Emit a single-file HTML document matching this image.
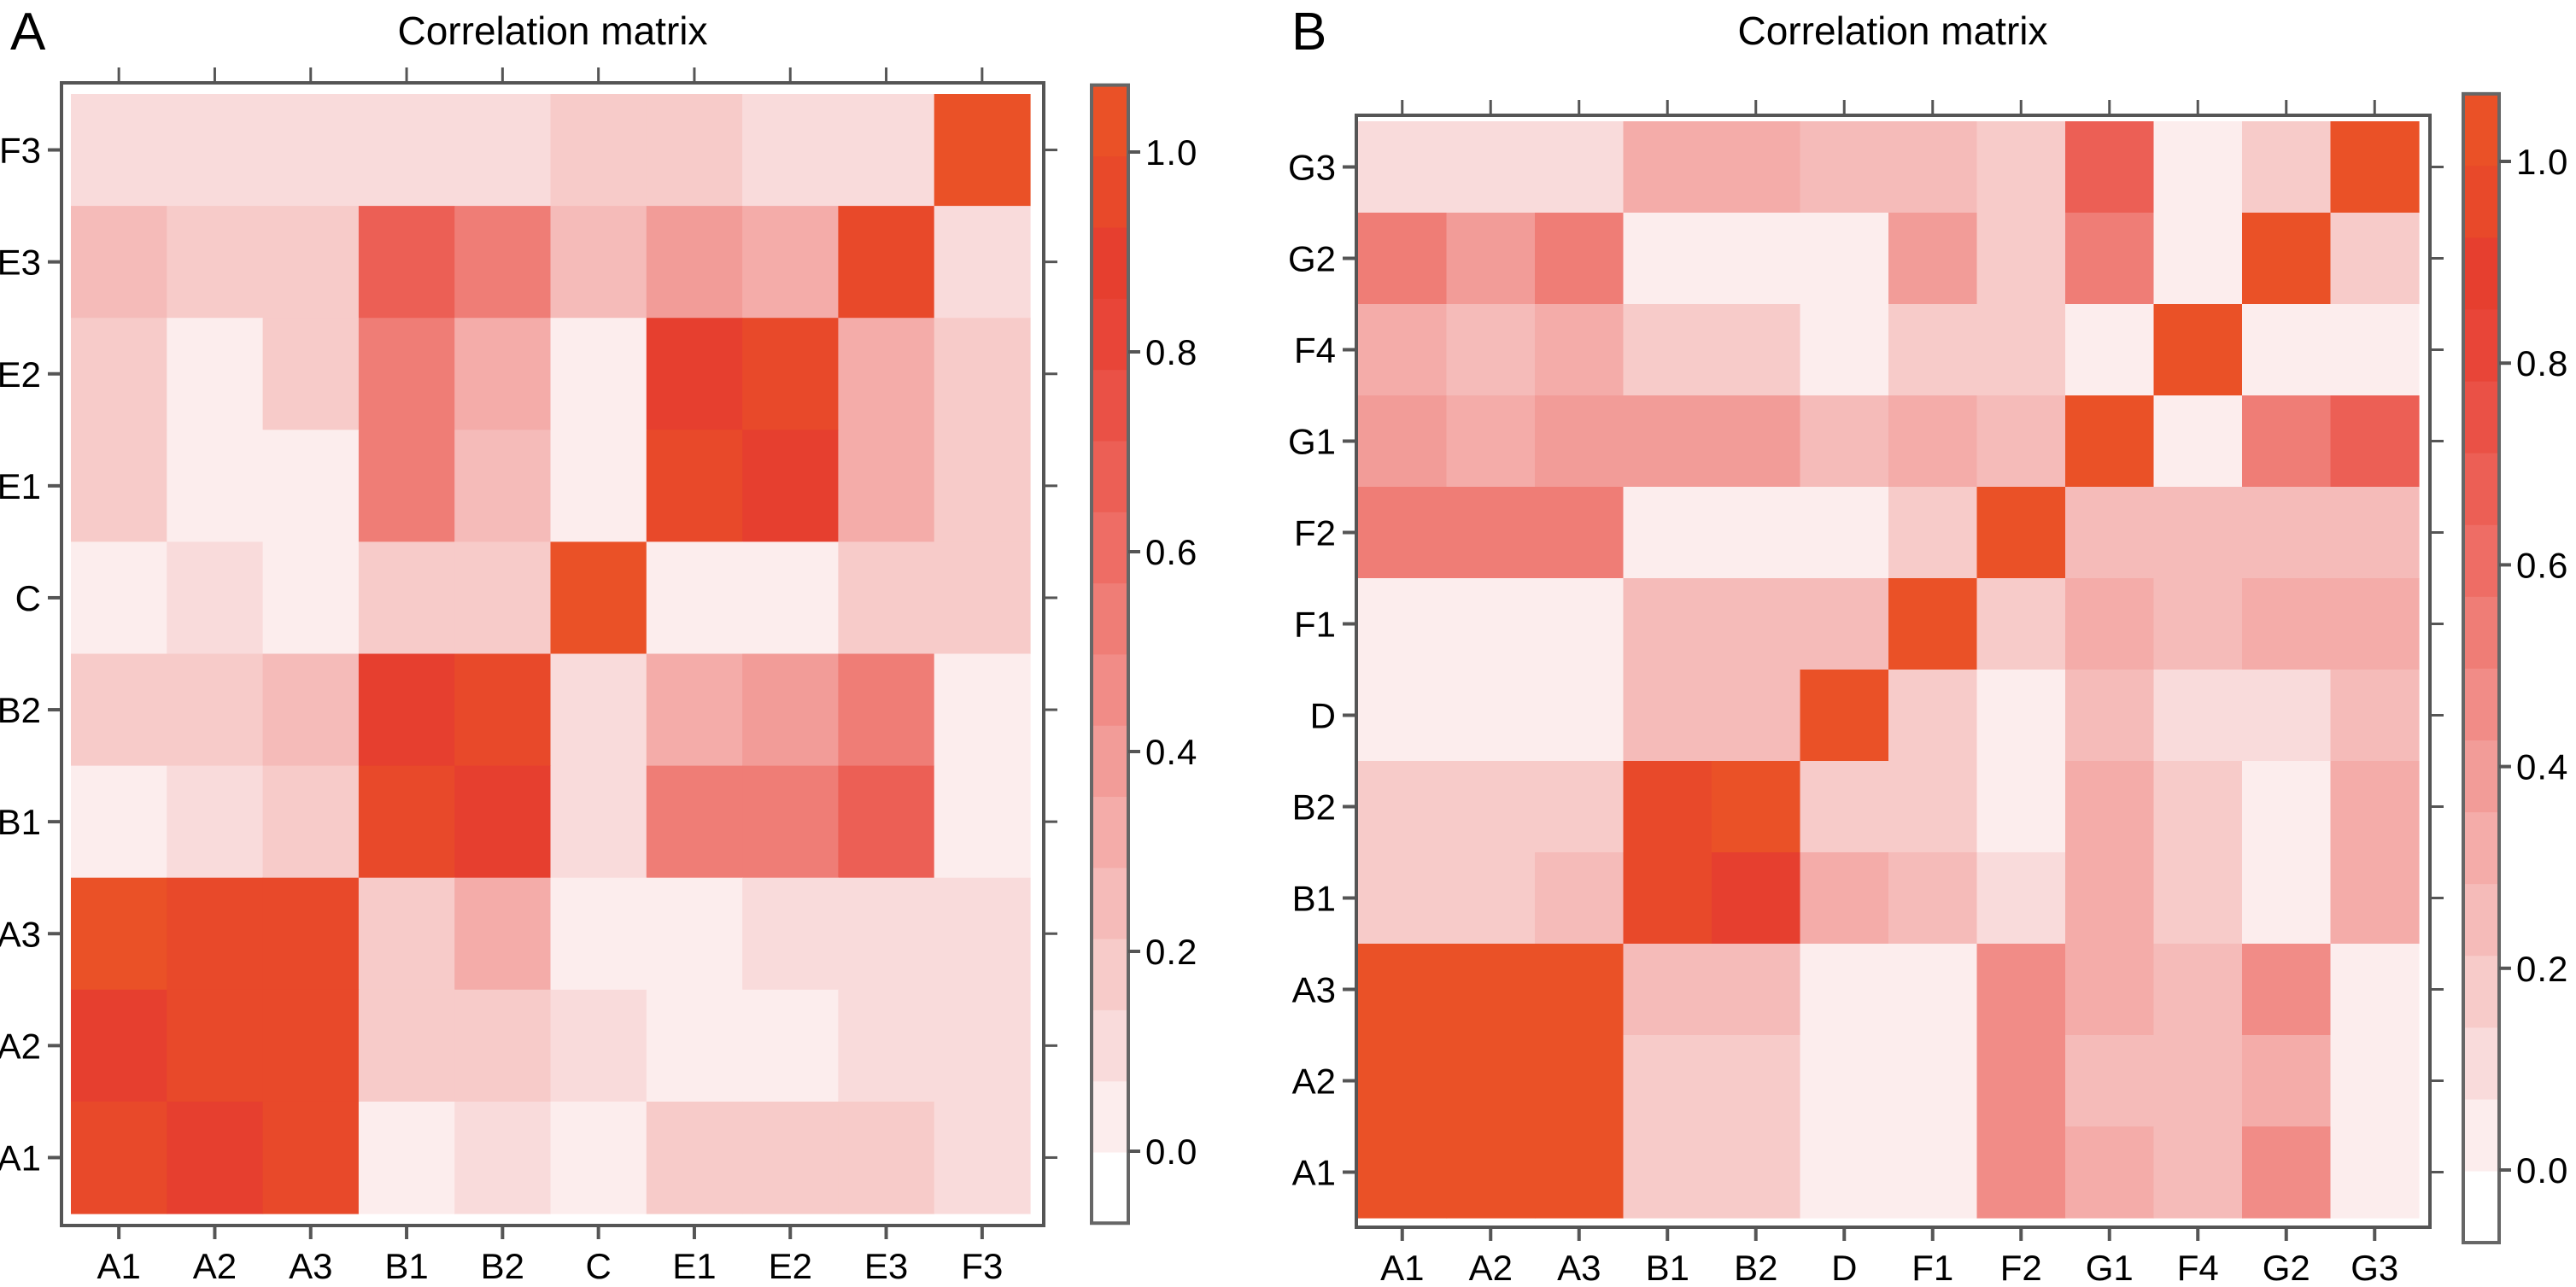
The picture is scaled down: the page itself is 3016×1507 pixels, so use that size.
<!DOCTYPE html>
<html><head><meta charset="utf-8"><style>
html,body{margin:0;padding:0;background:#fff;}
svg{display:block;font-family:"Liberation Sans",sans-serif;}
</style></head><body>
<svg id="fig" width="3016" height="1507" viewBox="0 0 3016 1507" xmlns="http://www.w3.org/2000/svg">
<text x="12" y="58" font-size="62">A</text>
<text x="647" y="52" font-size="46" text-anchor="middle">Correlation matrix</text>
<text x="1512" y="58" font-size="62">B</text>
<text x="2216" y="52" font-size="46" text-anchor="middle">Correlation matrix</text>
<g id="gA"></g>
<g id="gB"></g>
</svg>
<script>
const labelsA = ["A1","A2","A3","B1","B2","C","E1","E2","E3","F3"];
// rows top-to-bottom
const rowsA = ["F3","E3","E2","E1","C","B2","B1","A3","A2","A1"];
const valuesA = [
[.08,.08,.08,.08,.08,.2,.2,.12,.12,1.0],
[.25,.18,.18,.7,.55,.22,.4,.3,.95,.12],
[.15,.05,.15,.5,.35,.03,.88,.95,.3,.15],
[.15,.05,.05,.5,.28,.05,.95,.9,.35,.2],
[.06,.13,.0,.15,.15,1.0,.03,.03,.2,.2],
[.15,.2,.28,.92,.95,.12,.35,.4,.55,.05],
[.06,.12,.17,.97,.92,.12,.5,.5,.65,.05],
[1.0,.93,.97,.2,.3,.0,.05,.12,.12,.12],
[.9,.98,.93,.15,.2,.13,.05,.05,.1,.1],
[.98,.9,.97,.05,.13,.05,.15,.15,.2,.08]];
const labelsB = ["A1","A2","A3","B1","B2","D","F1","F2","G1","F4","G2","G3"];
const rowsB = ["G3","G2","F4","G1","F2","F1","D","B2","B1","A3","A2","A1"];
const valuesB = [
[.08,.08,.08,.3,.35,.22,.28,.18,.65,.05,.2,1.0],
[.5,.38,.5,.05,.05,.05,.4,.15,.55,.05,1.0,.2],
[.3,.25,.3,.18,.18,.05,.18,.18,.03,1.0,.05,.05],
[.38,.35,.38,.38,.38,.28,.35,.25,1.0,.05,.55,.65],
[.5,.5,.5,.05,.0,.05,.2,1.0,.25,.25,.28,.28],
[.07,.07,.07,.22,.22,.25,1.0,.2,.3,.22,.35,.3],
[.07,.07,.07,.28,.22,1.0,.2,.07,.25,.08,.08,.25],
[.2,.2,.2,.93,1.0,.2,.2,.0,.3,.2,.05,.35],
[.18,.18,.22,.98,.92,.3,.25,.08,.3,.18,.05,.3],
[1.0,1.0,1.0,.22,.25,.07,.07,.45,.3,.28,.45,.07],
[1.0,1.0,1.0,.15,.2,.05,.05,.45,.25,.22,.3,.07],
[1.0,1.0,1.0,.15,.2,.05,.05,.45,.3,.28,.45,.07]];
const cbTicks = [0,0.2,0.4,0.6,0.8,1.0];
const cbTickLabels = ["0.0","0.2","0.4","0.6","0.8","1.0"];

const NS="http://www.w3.org/2000/svg";
const stops=[[0,[255,255,255]],[0.03,[252,238,238]],[0.1,[249,220,220]],[0.2,[246,198,196]],[0.3,[244,176,174]],[0.4,[242,154,150]],[0.5,[240,132,126]],[0.6,[238,110,102]],[0.7,[236,90,80]],[0.8,[232,71,58]],[0.9,[230,62,46]],[1.0,[234,81,39]],[1.1,[234,81,39]]];
const VMIN=-0.072, BW=0.0712;
function bandMid(v){const k=Math.floor((v-VMIN)/BW);return k<=0?-1:VMIN+(k+0.5)*BW;}
function color(v){const m=bandMid(v);if(m<0)return "#ffffff";
 for(let i=0;i<stops.length-1;i++){if(m<=stops[i+1][0]){const t=(m-stops[i][0])/(stops[i+1][0]-stops[i][0]);const c=stops[i][1].map((a,j)=>Math.round(a+(stops[i+1][1][j]-a)*t));return `rgb(${c})`;}}
 return "rgb(234,81,39)";}
function mk(tag,attrs,parent){const e=document.createElementNS(NS,tag);for(const k in attrs)e.setAttribute(k,attrs[k]);parent.appendChild(e);return e;}

function panel(g,cols,rows,vals,P){
 const cw=(P.cx1-P.cx0)/cols.length, rh=(P.cy1-P.cy0)/rows.length;
 const xc=i=>P.cx0+(i+0.5)*cw, yc=j=>P.cy0+(j+0.5)*rh;
 rows.forEach((r,j)=>cols.forEach((c,i)=>{
  const e=mk("rect",{x:P.cx0+i*cw,y:P.cy0+j*rh,width:cw+0.6,height:rh+0.6,fill:color(vals[j][i])},g);
  
  
 }));
 const fr=mk("rect",{x:P.fx0,y:P.fy0,width:P.fx1-P.fx0,height:P.fy1-P.fy0,fill:"none",stroke:"#555",["stroke-width"]:4},g);
 
 
 cols.forEach((c,i)=>{
  mk("line",{x1:xc(i),x2:xc(i),y1:P.fy1,y2:P.fy1+16,stroke:"#555","stroke-width":4},g);
  mk("line",{x1:xc(i),x2:xc(i),y1:P.fy0,y2:P.fy0-18,stroke:"#555","stroke-width":3},g);
  const t=mk("text",{x:xc(i),y:P.fy1+62,"font-size":42,"text-anchor":"middle"},g);t.textContent=c;
  
  
 });
 rows.forEach((r,j)=>{
  mk("line",{x1:P.fx0-16,x2:P.fx0,y1:yc(j),y2:yc(j),stroke:"#555","stroke-width":4},g);
  mk("line",{x1:P.fx1,x2:P.fx1+16,y1:yc(j),y2:yc(j),stroke:"#555","stroke-width":3},g);
  const t=mk("text",{x:P.fx0-24,y:yc(j)+15,"font-size":42,"text-anchor":"end"},g);t.textContent=r;
  
  
 });
 const vy=v=>P.b0-(P.b0-P.b1)*v;
 const top=1.067, bot=-0.072;
 for(let k=0;k<16;k++){const lo=bot+k*BW, hi=Math.min(top,lo+BW);
  const e=mk("rect",{x:P.bx0,y:vy(hi),width:P.bx1-P.bx0,height:vy(lo)-vy(hi)+0.6,fill:color(lo+BW/2)},g);
  
  
 }
 const cf=mk("rect",{x:P.bx0,y:vy(top),width:P.bx1-P.bx0,height:vy(bot)-vy(top),fill:"none",stroke:"#666","stroke-width":4},g);
 
 
 cbTicks.forEach((v,i)=>{
  mk("line",{x1:P.bx1,x2:P.bx1+14,y1:vy(v),y2:vy(v),stroke:"#555","stroke-width":4},g);
  const t=mk("text",{x:P.bx1+20,y:vy(v)+15,"font-size":42,"letter-spacing":"1"},g);t.textContent=cbTickLabels[i];
  
  
 });
}
panel(document.getElementById("gA"),labelsA,rowsA,valuesA,
 {cx0:83,cx1:1206,cy0:110,cy1:1421,fx0:72,fx1:1222,fy0:97,fy1:1435,bx0:1278,bx1:1321,b0:1348,b1:178});
panel(document.getElementById("gB"),labelsB,rowsB,valuesB,
 {cx0:1590,cx1:2832,cy0:142,cy1:1426,fx0:1588,fx1:2845,fy0:135,fy1:1437,bx0:2884,bx1:2926,b0:1370,b1:189});
</script>
</body></html>
